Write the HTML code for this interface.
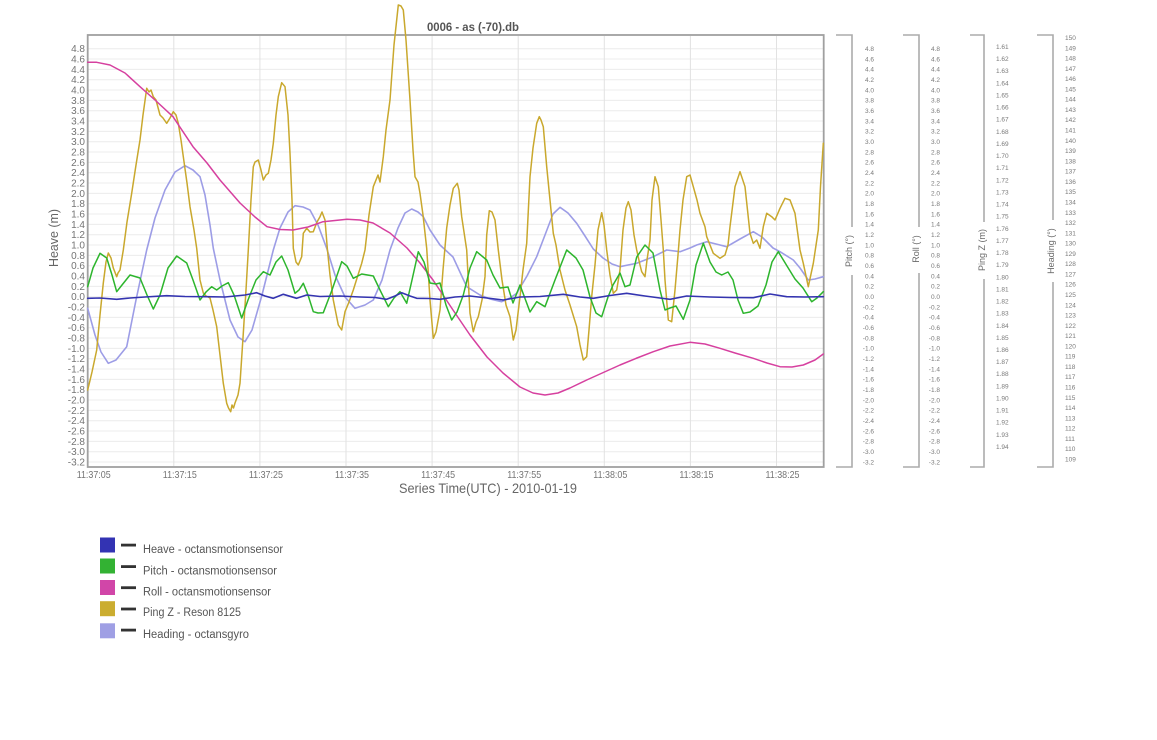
<!DOCTYPE html>
<html><head><meta charset="utf-8"><style>
html,body{margin:0;padding:0;background:#fff;}
svg{display:block;font-family:"Liberation Sans",sans-serif;}
.yl{font-size:10px;fill:#747474;text-anchor:end;}
.xl{font-size:10.5px;fill:#747474;text-anchor:middle;}
.rl{font-size:6.5px;fill:#7a7a7a;}
.re{text-anchor:end;}
.al{font-size:9px;fill:#6a6a6a;text-anchor:middle;}
.lg{font-size:11.5px;fill:#555;}
</style></head><body>
<svg width="1157" height="740" viewBox="0 0 1157 740" xmlns="http://www.w3.org/2000/svg">
<rect width="1157" height="740" fill="#fff"/>
<!-- grid -->
<g stroke="#ececec" stroke-width="1">
<path d="M88 48.7H823M88 59H823M88 69.4H823M88 79.7H823M88 90H823M88 100.4H823M88 110.7H823M88 121H823M88 131.4H823M88 141.7H823M88 152H823M88 162.4H823M88 172.7H823M88 183H823M88 193.4H823M88 203.7H823M88 214H823M88 224.4H823M88 234.7H823M88 245H823M88 255.4H823M88 265.7H823M88 276H823M88 286.4H823M88 296.7H823M88 307H823M88 317.4H823M88 327.7H823M88 338H823M88 348.4H823M88 358.7H823M88 369H823M88 379.4H823M88 389.7H823M88 400H823M88 410.4H823M88 420.7H823M88 431H823M88 441.4H823M88 451.7H823M88 462H823"/>
<path stroke="#e2e2e2" d="M173.8 36V466M259.9 36V466M346 36V466M432.1 36V466M518.2 36V466M604.3 36V466M690.4 36V466M776.5 36V466"/>
</g>
<!-- frame -->
<rect x="87.7" y="35" width="736" height="432" fill="none" stroke="#a0a0a0" stroke-width="1.8"/>
<!-- title -->
<text x="473" y="31" text-anchor="middle" font-weight="bold" font-size="11.5" fill="#555" textLength="92" lengthAdjust="spacingAndGlyphs">0006 - as (-70).db</text>
<!-- left axis labels -->
<g class="yl">
<text x="85" y="52.2">4.8</text><text x="85" y="62.5">4.6</text><text x="85" y="72.9">4.4</text><text x="85" y="83.2">4.2</text><text x="85" y="93.5">4.0</text><text x="85" y="103.9">3.8</text><text x="85" y="114.2">3.6</text><text x="85" y="124.5">3.4</text><text x="85" y="134.9">3.2</text><text x="85" y="145.2">3.0</text><text x="85" y="155.5">2.8</text><text x="85" y="165.9">2.6</text><text x="85" y="176.2">2.4</text><text x="85" y="186.5">2.2</text><text x="85" y="196.9">2.0</text><text x="85" y="207.2">1.8</text><text x="85" y="217.5">1.6</text><text x="85" y="227.9">1.4</text><text x="85" y="238.2">1.2</text><text x="85" y="248.5">1.0</text><text x="85" y="258.9">0.8</text><text x="85" y="269.2">0.6</text><text x="85" y="279.5">0.4</text><text x="85" y="289.9">0.2</text><text x="85" y="300.2">0.0</text><text x="85" y="310.5">-0.2</text><text x="85" y="320.9">-0.4</text><text x="85" y="331.2">-0.6</text><text x="85" y="341.5">-0.8</text><text x="85" y="351.9">-1.0</text><text x="85" y="362.2">-1.2</text><text x="85" y="372.5">-1.4</text><text x="85" y="382.9">-1.6</text><text x="85" y="393.2">-1.8</text><text x="85" y="403.5">-2.0</text><text x="85" y="413.9">-2.2</text><text x="85" y="424.2">-2.4</text><text x="85" y="434.5">-2.6</text><text x="85" y="444.9">-2.8</text><text x="85" y="455.2">-3.0</text><text x="85" y="465.5">-3.2</text>
</g>
<text transform="translate(58,238) rotate(-90)" text-anchor="middle" font-size="13" fill="#666" textLength="58" lengthAdjust="spacingAndGlyphs">Heave (m)</text>
<!-- x labels -->
<g class="xl">
<text x="93.7" y="478" textLength="34" lengthAdjust="spacingAndGlyphs">11:37:05</text>
<text x="179.8" y="478" textLength="34" lengthAdjust="spacingAndGlyphs">11:37:15</text>
<text x="265.9" y="478" textLength="34" lengthAdjust="spacingAndGlyphs">11:37:25</text>
<text x="352" y="478" textLength="34" lengthAdjust="spacingAndGlyphs">11:37:35</text>
<text x="438.1" y="478" textLength="34" lengthAdjust="spacingAndGlyphs">11:37:45</text>
<text x="524.2" y="478" textLength="34" lengthAdjust="spacingAndGlyphs">11:37:55</text>
<text x="610.3" y="478" textLength="34" lengthAdjust="spacingAndGlyphs">11:38:05</text>
<text x="696.4" y="478" textLength="34" lengthAdjust="spacingAndGlyphs">11:38:15</text>
<text x="782.5" y="478" textLength="34" lengthAdjust="spacingAndGlyphs">11:38:25</text>
</g>
<text x="488" y="493" text-anchor="middle" font-size="14" fill="#666" textLength="178" lengthAdjust="spacingAndGlyphs">Series Time(UTC) - 2010-01-19</text>

<!-- right axes brackets -->
<g stroke="#ababab" stroke-width="1.6" fill="none">
<path d="M836 35H852V227M852 275V467H836"/>
<path d="M903 35H919V227M919 273V467H903"/>
<path d="M970 35H984V222M984 279V467H970"/>
<path d="M1037 35H1053V220M1053 282V467H1037"/>
</g>
<text class="al" transform="translate(852,251) rotate(-90)">Pitch (°)</text>
<text class="al" transform="translate(919,249) rotate(-90)">Roll (°)</text>
<text class="al" transform="translate(985,250) rotate(-90)">Ping Z (m)</text>
<text class="al" transform="translate(1054,251) rotate(-90)">Heading (°)</text>

<g class="rl re">
<text x="874" y="51">4.8</text><text x="874" y="61.3">4.6</text><text x="874" y="71.7">4.4</text><text x="874" y="82">4.2</text><text x="874" y="92.3">4.0</text><text x="874" y="102.7">3.8</text><text x="874" y="113">3.6</text><text x="874" y="123.3">3.4</text><text x="874" y="133.7">3.2</text><text x="874" y="144">3.0</text><text x="874" y="154.3">2.8</text><text x="874" y="164.7">2.6</text><text x="874" y="175">2.4</text><text x="874" y="185.3">2.2</text><text x="874" y="195.7">2.0</text><text x="874" y="206">1.8</text><text x="874" y="216.3">1.6</text><text x="874" y="226.7">1.4</text><text x="874" y="237">1.2</text><text x="874" y="247.3">1.0</text><text x="874" y="257.7">0.8</text><text x="874" y="268">0.6</text><text x="874" y="278.3">0.4</text><text x="874" y="288.7">0.2</text><text x="874" y="299">0.0</text><text x="874" y="309.3">-0.2</text><text x="874" y="319.7">-0.4</text><text x="874" y="330">-0.6</text><text x="874" y="340.3">-0.8</text><text x="874" y="350.7">-1.0</text><text x="874" y="361">-1.2</text><text x="874" y="371.3">-1.4</text><text x="874" y="381.7">-1.6</text><text x="874" y="392">-1.8</text><text x="874" y="402.3">-2.0</text><text x="874" y="412.7">-2.2</text><text x="874" y="423">-2.4</text><text x="874" y="433.3">-2.6</text><text x="874" y="443.7">-2.8</text><text x="874" y="454">-3.0</text><text x="874" y="464.3">-3.2</text>
<text x="940" y="51">4.8</text><text x="940" y="61.3">4.6</text><text x="940" y="71.7">4.4</text><text x="940" y="82">4.2</text><text x="940" y="92.3">4.0</text><text x="940" y="102.7">3.8</text><text x="940" y="113">3.6</text><text x="940" y="123.3">3.4</text><text x="940" y="133.7">3.2</text><text x="940" y="144">3.0</text><text x="940" y="154.3">2.8</text><text x="940" y="164.7">2.6</text><text x="940" y="175">2.4</text><text x="940" y="185.3">2.2</text><text x="940" y="195.7">2.0</text><text x="940" y="206">1.8</text><text x="940" y="216.3">1.6</text><text x="940" y="226.7">1.4</text><text x="940" y="237">1.2</text><text x="940" y="247.3">1.0</text><text x="940" y="257.7">0.8</text><text x="940" y="268">0.6</text><text x="940" y="278.3">0.4</text><text x="940" y="288.7">0.2</text><text x="940" y="299">0.0</text><text x="940" y="309.3">-0.2</text><text x="940" y="319.7">-0.4</text><text x="940" y="330">-0.6</text><text x="940" y="340.3">-0.8</text><text x="940" y="350.7">-1.0</text><text x="940" y="361">-1.2</text><text x="940" y="371.3">-1.4</text><text x="940" y="381.7">-1.6</text><text x="940" y="392">-1.8</text><text x="940" y="402.3">-2.0</text><text x="940" y="412.7">-2.2</text><text x="940" y="423">-2.4</text><text x="940" y="433.3">-2.6</text><text x="940" y="443.7">-2.8</text><text x="940" y="454">-3.0</text><text x="940" y="464.3">-3.2</text>
</g>
<g class="rl">
<text x="996" y="49">1.61</text><text x="996" y="61.1">1.62</text><text x="996" y="73.2">1.63</text><text x="996" y="85.4">1.64</text><text x="996" y="97.5">1.65</text><text x="996" y="109.6">1.66</text><text x="996" y="121.7">1.67</text><text x="996" y="133.8">1.68</text><text x="996" y="146">1.69</text><text x="996" y="158.1">1.70</text><text x="996" y="170.2">1.71</text><text x="996" y="182.3">1.72</text><text x="996" y="194.4">1.73</text><text x="996" y="206.6">1.74</text><text x="996" y="218.7">1.75</text><text x="996" y="230.8">1.76</text><text x="996" y="242.9">1.77</text><text x="996" y="255">1.78</text><text x="996" y="267.2">1.79</text><text x="996" y="279.3">1.80</text><text x="996" y="291.4">1.81</text><text x="996" y="303.5">1.82</text><text x="996" y="315.6">1.83</text><text x="996" y="327.8">1.84</text><text x="996" y="339.9">1.85</text><text x="996" y="352">1.86</text><text x="996" y="364.1">1.87</text><text x="996" y="376.2">1.88</text><text x="996" y="388.4">1.89</text><text x="996" y="400.5">1.90</text><text x="996" y="412.6">1.91</text><text x="996" y="424.7">1.92</text><text x="996" y="436.8">1.93</text><text x="996" y="449">1.94</text>
<text x="1065" y="40">150</text><text x="1065" y="50.3">149</text><text x="1065" y="60.6">148</text><text x="1065" y="70.8">147</text><text x="1065" y="81.1">146</text><text x="1065" y="91.4">145</text><text x="1065" y="101.7">144</text><text x="1065" y="112">143</text><text x="1065" y="122.2">142</text><text x="1065" y="132.5">141</text><text x="1065" y="142.8">140</text><text x="1065" y="153.1">139</text><text x="1065" y="163.4">138</text><text x="1065" y="173.6">137</text><text x="1065" y="183.9">136</text><text x="1065" y="194.2">135</text><text x="1065" y="204.5">134</text><text x="1065" y="214.8">133</text><text x="1065" y="225">132</text><text x="1065" y="235.3">131</text><text x="1065" y="245.6">130</text><text x="1065" y="255.9">129</text><text x="1065" y="266.2">128</text><text x="1065" y="276.4">127</text><text x="1065" y="286.7">126</text><text x="1065" y="297">125</text><text x="1065" y="307.3">124</text><text x="1065" y="317.6">123</text><text x="1065" y="327.8">122</text><text x="1065" y="338.1">121</text><text x="1065" y="348.4">120</text><text x="1065" y="358.7">119</text><text x="1065" y="369">118</text><text x="1065" y="379.2">117</text><text x="1065" y="389.5">116</text><text x="1065" y="399.8">115</text><text x="1065" y="410.1">114</text><text x="1065" y="420.4">113</text><text x="1065" y="430.6">112</text><text x="1065" y="440.9">111</text><text x="1065" y="451.2">110</text><text x="1065" y="461.5">109</text>
</g>

<!-- series -->
<g fill="none" stroke-linejoin="round" stroke-linecap="round">
<polyline stroke="#9d9de6" stroke-width="1.6" points="87.7,308.3 95,335 101,352 108.3,363.3 116,360 126.7,346.7 136,300 146.7,250 155,218 165,190 175,172 185,165.7 193,170 200,176.7 205,195 210,225 213.3,248.3 220,280 230,320 238,337 245,341.7 252,330 262,295 273.3,250 280,228 288,212 295,205.7 303,207 310,210 318,225 326.7,248.3 335,275 345,297 355,308.3 365,305 373.3,300 382,280 390,250 398,228 405,213 411.7,209 418,212 423.3,216.7 430,230 440,245 453,257 466.7,286.7 480,295 490,299 501.7,301.7 510,298 516.7,293.3 527,276 536.7,256.7 545,235 553,214 560,207.3 568,213 576.7,223.3 585,236 593.3,249 603,258 612,264 620,266.7 628,265 636.7,263.3 653.3,256.7 666.7,250 680,251.7 690,248 696.7,245 706.7,241.7 716,244 726.7,246.7 740,239 753.3,231.7 762,237 773,248 780,251.7 793.3,260 800,268 808.3,280 815,279 823.3,276.7"/>
<polyline stroke="#c9a82d" stroke-width="1.5" points="87.7,390 92,372 96.7,350 100,315 103.3,283 106,262 108.3,253 111,258 113.3,268 116.7,276.7 118,273 120,270 123.3,250 127,222 131.7,193.3 136,165 140,140 143,115 146.7,88.3 149,92 151,90 153.3,96.7 156,100 160,115 163,118 166.7,123.3 170,118 173.3,111.7 176,115 178.3,123.3 181,140 183.3,156.7 187,183 190,206.7 194,230 196.7,248.3 200,280 203.3,293 206,296 210,298 213,310 216.7,326.7 220,355 223.3,383.3 226.7,403.3 228.5,408 230.7,411.7 232,405 233.5,408 235,403 238,395 240,383.3 243.3,333.3 246,290 248.3,250 251,200 253.3,166.7 255,162 258.3,160 261,170 263.3,180 266,175 268.3,173.3 271,160 273.3,143.3 276,115 278.3,96.7 281.7,82.7 285,86.7 288,115 290,153.3 292,200 293.3,248.3 296,262 298.3,265 301.7,256.7 303.3,233.3 306.7,228.3 310,232 313.3,231.7 317,222 320,216.7 322,212 325,220 327.3,248.3 330,275 333.3,300 338.3,325 341.7,330 345,311.7 349,302 353.3,290 358,275 361.7,263.3 365,250 369,215 373.3,186.7 378,175 380,182 383.3,156.7 386,130 390,100 394,45 398.3,5 401,6 403.3,10 406,40 410,100 413,150 415,176.7 418,182 420,193.3 423,215 426.7,248.3 430,300 433.3,338.3 436,332 440,310 443,270 446.7,228 450,205 453.3,188.3 457.3,183.3 459,190 461.7,216.7 466.7,250 470,313.3 473.3,331.7 476,322 478.3,316.7 482,300 485,276.7 486.7,235 489.3,210.7 492,212 495,220 498.3,250 502,280 506,305 510,316.7 513.3,340 516,330 520,296.7 523,270 526.7,243.3 530,176.7 533,148 536.7,123.3 539.3,116.7 541,120 543.3,126.7 546.7,166.7 550,200 553.3,233.3 556,245 560,270 565,290 570,305 576.7,326.7 580,345 583.3,360 586.7,356.7 589,330 591.7,296.7 595,265 598,230 601.7,212.7 604,225 606.7,250 610,275 613.3,293.3 616.7,290 620,270 623,230 626,208 628.3,201.7 631,210 634,235 636.7,250 640,265 641.7,271.7 645,276.7 647,260 650,240 652,200 655,176.7 658.3,186.7 661,220 663.3,250 665,280 668.3,320 671.7,321.7 675,290 678,255 680,230 683,200 686.7,176.7 690,175 693.3,186.7 697,200 700,213.3 705,226.7 706.7,236.7 710,245 713.3,253.3 720,258.3 725,255 728,245 730,226.7 735,186.7 740,171.7 745,186.7 750,233.3 753.3,243.3 756.7,240 760,248.3 763.3,226.7 766.7,213.3 771.7,216.7 775,220 780,208.3 785,198.3 790,200 795,213.3 800,250 803.3,263.3 808.3,286.7 813.3,263.3 818.3,230 820.5,186.7 823.3,143.3"/>
<polyline stroke="#d6409f" stroke-width="1.5" points="87.7,62.3 96.7,62.3 110,65 125,73 140,86.7 155,100 173,116.7 193,146.7 207,163 220,180 240,203 255,217 267,226.7 280,229.5 293,230 308,227 323,221.7 347,219.3 360,220 373,223 390,233 407,248 420,263 433,280 445,298 453,310 470,335 487,357 503,373 520,387 533,393 545,395 558,393 570,388 586.7,380 600,374 620,365 637,358 653.3,351.7 670,346 690,342.3 705,344 720,348.3 735,353 753.3,358.3 767,363 780,366.7 792,367 803.3,365 815,360 823.3,354"/>
<polyline stroke="#2db52d" stroke-width="1.5" points="87.7,286.7 93,268 100,253.3 106.7,258 112,275 116.7,291.7 122,285 130,275 140,278 147,295 153.3,309 160,295 168,268 176.7,256 186.7,263 193,280 200,300 206,292 211.7,286.7 216.7,290 222,286 228.3,282.7 234,295 241.7,318 248,300 256,280 263.3,271.7 270,275 276,262 281.7,256 288,270 295,293.3 299,290 303.3,283.3 308,295 313.3,311.7 318,313 323.3,312.7 332,290 341.7,261.7 347,266 353.3,278.3 361.7,274 373.3,276 380,290 388.3,306.7 394,298 400,291.7 406.7,303.3 412,280 418.3,251.7 424,262 430,283 436,284 440,283 446,305 451.7,320 457,312 463.3,295 470,268 476.7,251.7 486.7,260 493,275 500,288 508,287 513,303 520,285 530,312 536.7,301.7 545,306.7 555,280 566.7,250 576,258 583,270 590,297 596,313 601.7,316.7 608,297 613,285 620,273 625,286.7 630,285 636.7,257 645,245 653,253 660,290 665,310 670,308 676,306 683.3,319.3 690,300 696,265 703.3,243.3 710,262 716,272 721.7,275 728,272 733,280 738,300 743.3,313.3 750,312 758,306 766,285 772,262 778.3,251.7 787,266 795,279 803,288 811.7,301.7 817,298 823.3,291.7"/>
<polyline stroke="#3434b0" stroke-width="1.6" points="87.7,298.3 100,298 116.7,299.3 130,298 145,297 166.7,295.7 185,296.5 206.7,296.7 225,297 245,295 256.7,292.7 265,296 273.3,298.3 283.3,294.3 296.7,298.3 306.7,295 320,296.5 340,296 360,297 375,297.5 386.7,299.3 395,296 401.7,292.7 410,296 416.7,298.3 430,298.5 440,299.3 455,297 470,296 487,298 503.3,300 520,297 540,296.5 563.3,294.3 580,297 593.3,298.3 610,295.5 626.7,293.3 645,296 660,298 670,299.3 686.7,296 710,297 730,297.5 753.3,297.7 770,294 786.7,296.7 805,297 823.3,296.7"/>
</g>

<!-- legend -->
<g>
<rect x="100" y="537.5" width="15" height="15" fill="#3333b3"/>
<rect x="121" y="543.7" width="15" height="2.8" fill="#333"/>
<text class="lg" x="143" y="553" textLength="140" lengthAdjust="spacingAndGlyphs">Heave - octansmotionsensor</text>
<rect x="100" y="558.5" width="15" height="15" fill="#33b233"/>
<rect x="121" y="565.2" width="15" height="2.8" fill="#333"/>
<text class="lg" x="143" y="574.5" textLength="134" lengthAdjust="spacingAndGlyphs">Pitch - octansmotionsensor</text>
<rect x="100" y="580" width="15" height="15" fill="#d146a8"/>
<rect x="121" y="586.3" width="15" height="2.8" fill="#333"/>
<text class="lg" x="143" y="595.5" textLength="128" lengthAdjust="spacingAndGlyphs">Roll - octansmotionsensor</text>
<rect x="100" y="601.2" width="15" height="15" fill="#cbad30"/>
<rect x="121" y="607.6" width="15" height="2.8" fill="#333"/>
<text class="lg" x="143" y="616.2" textLength="98" lengthAdjust="spacingAndGlyphs">Ping Z - Reson 8125</text>
<rect x="100" y="623.3" width="15" height="15" fill="#9f9fe4"/>
<rect x="121" y="628.7" width="15" height="2.8" fill="#333"/>
<text class="lg" x="143" y="638" textLength="106" lengthAdjust="spacingAndGlyphs">Heading - octansgyro</text>
</g>
</svg>
</body></html>
